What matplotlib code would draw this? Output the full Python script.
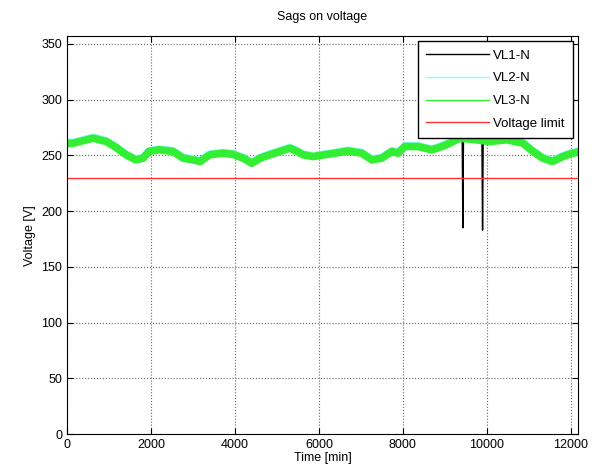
import matplotlib.pyplot as plt
from matplotlib.lines import Line2D

# time [min] and voltage [V]
time = [0, 140, 620, 930, 1170, 1400, 1640, 1810, 1950, 2190, 2520, 2760, 3000,
        3170, 3400, 3710, 3950, 4190, 4400, 4600, 4830, 5070, 5310, 5480, 5620,
        5860, 6140, 6380, 6690, 7020, 7260, 7500, 7740, 7880, 8050, 8360, 8690,
        8930, 9120, 9360, 9760, 10070, 10480, 10860, 11100, 11330, 11570, 11810,
        12050, 12170]
vl3 = [261, 261, 265.5, 262.5, 257, 250.6, 246, 247.6, 253.6, 255, 253.6, 247.6,
       246, 244.6, 250.6, 252, 251, 247.6, 243, 247.6, 250.6, 253.6, 256.5, 253.6,
       250.6, 249, 250.6, 252, 254, 252, 246, 247.6, 253.6, 252, 258, 258, 255,
       258, 261, 265.5, 264, 262.5, 264, 261, 253.6, 247.6, 244.6, 249, 252, 253]
vl2 = [v + 1 for v in vl3]

# VL1 with the two sags
time_vl1 = time[:40] + [9415, 9430, 9445, 9885, 9900, 9915] + time[40:]
vl1 = vl3[:40] + [265, 185, 265, 264, 183, 264] + vl3[40:]

limit_t = [0, 12170]
limit_v = [230, 230]

plt.rcParams['font.family'] = 'Liberation Sans'
plt.rcParams['font.size'] = 9

fig = plt.figure(figsize=(6, 4.76), dpi=100)
ax = fig.add_axes([0.112, 0.088, 0.851, 0.836])

ax.plot(time_vl1, vl1, color='black', linewidth=1)
ax.plot(time, vl2, color='#88ffff', linewidth=5)
ax.plot(time, vl3, color='#33ee33', linewidth=5.5)
ax.plot(limit_t, limit_v, color='#ff3333', linewidth=1)

ax.set_xlim(0, 12170)
ax.set_ylim(0, 357)
ax.set_xticks(range(0, 12001, 2000))
ax.set_yticks(range(0, 351, 50))
ax.grid(True, linestyle=':', color='#666666', linewidth=0.8)
ax.tick_params(direction='in', top=True, right=True, length=4)

ax.set_title('Sags on voltage', fontsize=9, pad=12)
ax.set_xlabel('Time [min]', labelpad=1)
ax.set_ylabel('Voltage [V]')

handles = [Line2D([], [], color='black', linewidth=1),
           Line2D([], [], color='#88ffff', linewidth=1),
           Line2D([], [], color='#33ee33', linewidth=1),
           Line2D([], [], color='#ff3333', linewidth=1)]
ax.legend(handles, ['VL1-N', 'VL2-N', 'VL3-N', 'Voltage limit'],
          loc='upper right', fancybox=False, edgecolor='black',
          framealpha=1, borderaxespad=0.4, handlelength=4.8, fontsize=9.5,
          labelspacing=0.8, borderpad=0.6, handletextpad=0.3)

plt.savefig('out.png')
